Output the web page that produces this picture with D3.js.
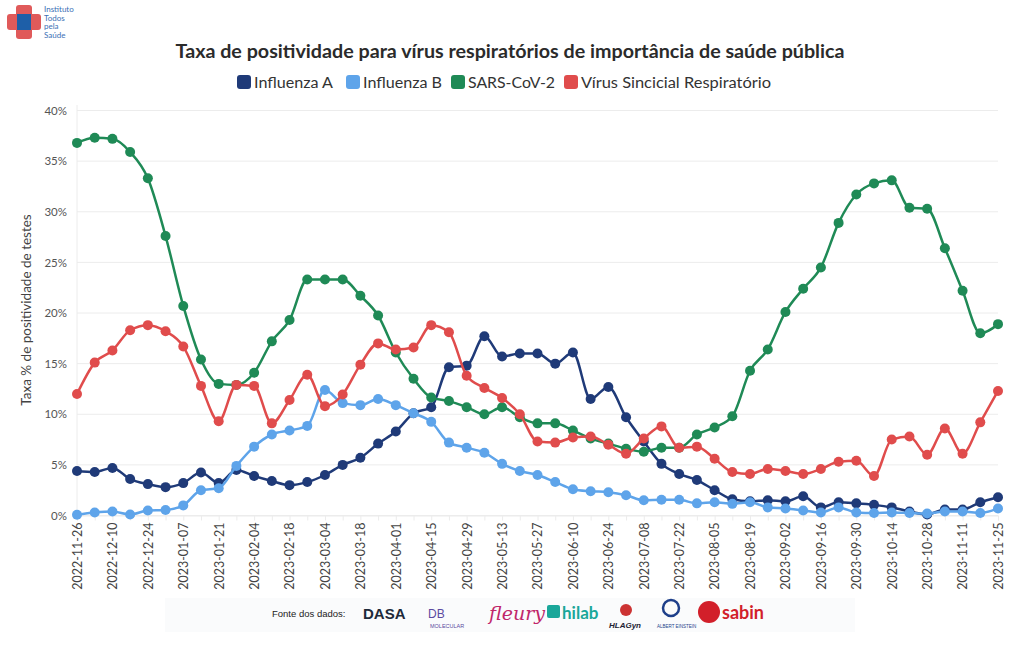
<!DOCTYPE html>
<html><head><meta charset="utf-8">
<script src="https://cdn.jsdelivr.net/npm/d3@7"></script>
<style>
body{margin:0;background:#fff;font-family:"Lato","Noto Sans",sans-serif;}
svg{display:block;}
</style></head>
<body><svg id="c" width="1020" height="650"></svg>
<script>
const dates = ["2022-11-26","2022-12-03","2022-12-10","2022-12-17","2022-12-24","2022-12-31","2023-01-07","2023-01-14","2023-01-21","2023-01-28","2023-02-04","2023-02-11","2023-02-18","2023-02-25","2023-03-04","2023-03-11","2023-03-18","2023-03-25","2023-04-01","2023-04-08","2023-04-15","2023-04-22","2023-04-29","2023-05-06","2023-05-13","2023-05-20","2023-05-27","2023-06-03","2023-06-10","2023-06-17","2023-06-24","2023-07-01","2023-07-08","2023-07-15","2023-07-22","2023-07-29","2023-08-05","2023-08-12","2023-08-19","2023-08-26","2023-09-02","2023-09-09","2023-09-16","2023-09-23","2023-09-30","2023-10-07","2023-10-14","2023-10-21","2023-10-28","2023-11-04","2023-11-11","2023-11-18","2023-11-25"];
const influenzaA = [4.4,4.3,4.7,3.6,3.1,2.8,3.2,4.25,3.2,4.5,3.9,3.4,3.0,3.3,4.0,5.0,5.7,7.1,8.3,10.1,10.7,14.65,14.8,17.7,15.7,16.0,16.0,15.0,16.1,11.5,12.7,9.7,7.3,5.1,4.1,3.5,2.5,1.6,1.4,1.5,1.4,1.9,0.8,1.3,1.2,1.05,0.8,0.4,0.1,0.6,0.6,1.3,1.8];
const influenzaB = [0.07,0.3,0.4,0.1,0.5,0.55,1.0,2.5,2.7,4.9,6.8,8.0,8.4,8.85,12.4,11.1,10.9,11.5,10.9,10.1,9.25,7.2,6.7,6.2,5.1,4.4,4.0,3.3,2.6,2.4,2.3,2.0,1.5,1.55,1.55,1.2,1.3,1.15,1.3,0.8,0.7,0.5,0.3,0.8,0.3,0.25,0.3,0.25,0.2,0.4,0.4,0.25,0.7];
const sarsCov2 = [36.8,37.3,37.2,35.9,33.3,27.6,20.7,15.4,13.0,12.9,14.1,17.2,19.3,23.3,23.3,23.3,21.7,19.75,16.1,13.5,11.65,11.3,10.7,10.0,10.7,9.7,9.1,9.1,8.4,7.6,7.1,6.6,6.3,6.7,6.7,8.0,8.7,9.8,14.3,16.4,20.1,22.4,24.5,28.9,31.7,32.8,33.1,30.4,30.3,26.4,22.2,18.0,18.9];
const vsr = [12.0,15.1,16.3,18.3,18.8,18.2,16.7,12.8,9.3,12.9,12.8,9.1,11.4,13.9,10.8,11.95,14.9,17.0,16.4,16.6,18.8,18.1,13.8,12.6,11.6,10.0,7.3,7.2,7.7,7.8,7.0,6.1,7.6,8.8,6.7,6.8,5.6,4.3,4.1,4.6,4.4,4.1,4.6,5.3,5.4,3.9,7.5,7.8,6.0,8.6,6.1,9.2,12.3];
const seriesNames = ["Influenza A","Influenza B","SARS-CoV-2","Vírus Sincicial Respiratório"];
const seriesColors = ["#1f3a78","#5ea4ea","#1f8a56","#e04c4c"];
const yTicks = [0,5,10,15,20,25,30,35,40];
const xTickLabels = dates.filter((d,i)=>i%2===0);

const series = [influenzaA, influenzaB, sarsCov2, vsr];
const svg = d3.select("#c");

const x = d3.scalePoint().domain(dates).range([77, 998]);
const y = d3.scaleLinear().domain([0, 40]).range([515.5, 110.5]);

// grid
svg.append("g").selectAll("line").data(yTicks).join("line")
  .attr("x1", 77).attr("x2", 998)
  .attr("y1", d=>y(d)).attr("y2", d=>y(d))
  .attr("stroke", "#ececec").attr("stroke-width", 1);
svg.append("line").attr("x1",77).attr("x2",77).attr("y1",105).attr("y2",515.5).attr("stroke","#ececec");

// y axis labels
const yAxis = d3.axisLeft(y).tickValues(yTicks).tickFormat(d=>d+"%").tickSize(0).tickPadding(10);
const ya = svg.append("g").attr("transform","translate(77,0)").call(yAxis);
ya.select(".domain").remove();
ya.selectAll("text").attr("font-family","Lato, sans-serif").attr("font-size",11.5).attr("fill","#555");

// x axis
const xAxis = d3.axisBottom(x).tickValues(dates).tickSize(5).tickFormat(d=> xTickLabels.includes(d)? d : "");
const xa = svg.append("g").attr("transform","translate(0,515.5)").call(xAxis);
xa.select(".domain").attr("stroke","#ececec");
xa.selectAll(".tick line").attr("stroke","#ececec");
xa.selectAll("text").attr("font-family","Lato, sans-serif").attr("font-size",12.5).attr("fill","#444")
  .attr("transform","rotate(-90)").attr("text-anchor","end").attr("dx","-7").attr("dy","0.35em").attr("x",0).attr("y",0);

// axis title
svg.append("text").attr("transform","translate(31,310) rotate(-90)").attr("text-anchor","middle")
  .attr("font-family","Lato, sans-serif").attr("font-size",13.5).attr("fill","#444")
  .text("Taxa % de positividade de testes");

// lines
const line = d3.line().x((d,i)=>x(dates[i])).y(d=>y(d)).curve(d3.curveMonotoneX);
series.forEach((s,k)=>{
  const g = svg.append("g");
  g.append("path").attr("d", line(s)).attr("fill","none").attr("stroke",seriesColors[k]).attr("stroke-width",2.5);
  g.selectAll("circle").data(s).join("circle")
    .attr("cx",(d,i)=>x(dates[i])).attr("cy",d=>y(d)).attr("r",5).attr("fill",seriesColors[k]);
});

// title
svg.append("text").attr("x",510).attr("y",58).attr("text-anchor","middle")
  .attr("font-family","Lato, sans-serif").attr("font-weight","bold").attr("font-size",19).attr("fill","#2b2b2b")
  .attr("textLength",669).attr("lengthAdjust","spacingAndGlyphs")
  .text("Taxa de positividade para vírus respiratórios de importância de saúde pública");

// legend
const legX = [237, 346, 451, 564];
const legW = [79, 79, 87, 190];
const leg = svg.append("g");
seriesNames.forEach((n,k)=>{
  leg.append("rect").attr("x",legX[k]).attr("y",75).attr("width",14).attr("height",14).attr("rx",3).attr("fill",seriesColors[k]);
  leg.append("text").attr("x",legX[k]+17).attr("y",88).attr("font-family","Lato, sans-serif").attr("font-size",15.5).attr("fill","#333")
    .attr("textLength",legW[k]).attr("lengthAdjust","spacingAndGlyphs").text(n);
});

// logo
const logo = svg.append("g");
logo.append("rect").attr("x",16).attr("y",5).attr("width",16).attr("height",34).attr("rx",3).attr("fill","#e05a5a");
logo.append("rect").attr("x",7).attr("y",14).attr("width",34).attr("height",16).attr("rx",3).attr("fill","#e05a5a");
logo.append("rect").attr("x",17).attr("y",14).attr("width",14).attr("height",16).attr("fill","#1e5fa8");
["Instituto","Todos","pela","Saúde"].forEach((t,i)=>{
  logo.append("text").attr("x",44).attr("y",12+i*8.5).attr("font-family","Lato, sans-serif").attr("font-size",8).attr("fill","#3a6fb5").text(t);
});

// footer
const f = svg.append("g");
f.append("rect").attr("x",165).attr("y",598).attr("width",690).attr("height",34).attr("fill","#fafbfc");
f.append("text").attr("x",272).attr("y",617).attr("font-family","Liberation Sans, sans-serif").attr("font-size",9.5).attr("fill","#222").text("Fonte dos dados:");
f.append("text").attr("x",363).attr("y",619).attr("font-family","Liberation Sans, sans-serif").attr("font-weight","bold").attr("font-size",15).attr("fill","#1e2a3a").text("DASA");
f.append("text").attr("x",428).attr("y",618).attr("font-family","Liberation Sans, sans-serif").attr("font-size",12).attr("fill","#5b4aa0").text("DB");
f.append("text").attr("x",430).attr("y",628).attr("font-family","Liberation Sans, sans-serif").attr("font-size",5.5).attr("fill","#5b4aa0").text("MOLECULAR");
f.append("text").attr("x",489).attr("y",620).attr("font-family","DejaVu Serif, serif").attr("font-style","italic").attr("font-size",19).attr("fill","#c0266a").text("fleury");
f.append("rect").attr("x",547).attr("y",605).attr("width",13).attr("height",13).attr("rx",2).attr("fill","#1aa79a");
f.append("text").attr("x",562).attr("y",619).attr("font-family","Lato, sans-serif").attr("font-weight","bold").attr("font-size",17).attr("fill","#1aa79a").text("hilab");
f.append("circle").attr("cx",626).attr("cy",610).attr("r",6).attr("fill","#c33");
f.append("text").attr("x",609).attr("y",628).attr("font-family","Liberation Sans, sans-serif").attr("font-weight","bold").attr("font-style","italic").attr("font-size",8).attr("fill","#223").text("HLAGyn");
f.append("circle").attr("cx",671).attr("cy",608).attr("r",8).attr("fill","none").attr("stroke","#1e3f8a").attr("stroke-width",2.5);
f.append("text").attr("x",657).attr("y",628).attr("font-family","Liberation Sans, sans-serif").attr("font-size",4.5).attr("fill","#1e3f8a").text("ALBERT EINSTEIN");
f.append("circle").attr("cx",709).attr("cy",612).attr("r",11).attr("fill","#d21f2a");
f.append("text").attr("x",722).attr("y",619).attr("font-family","Lato, sans-serif").attr("font-weight","bold").attr("font-size",18).attr("fill","#d21f2a").text("sabin");
</script></body></html>
